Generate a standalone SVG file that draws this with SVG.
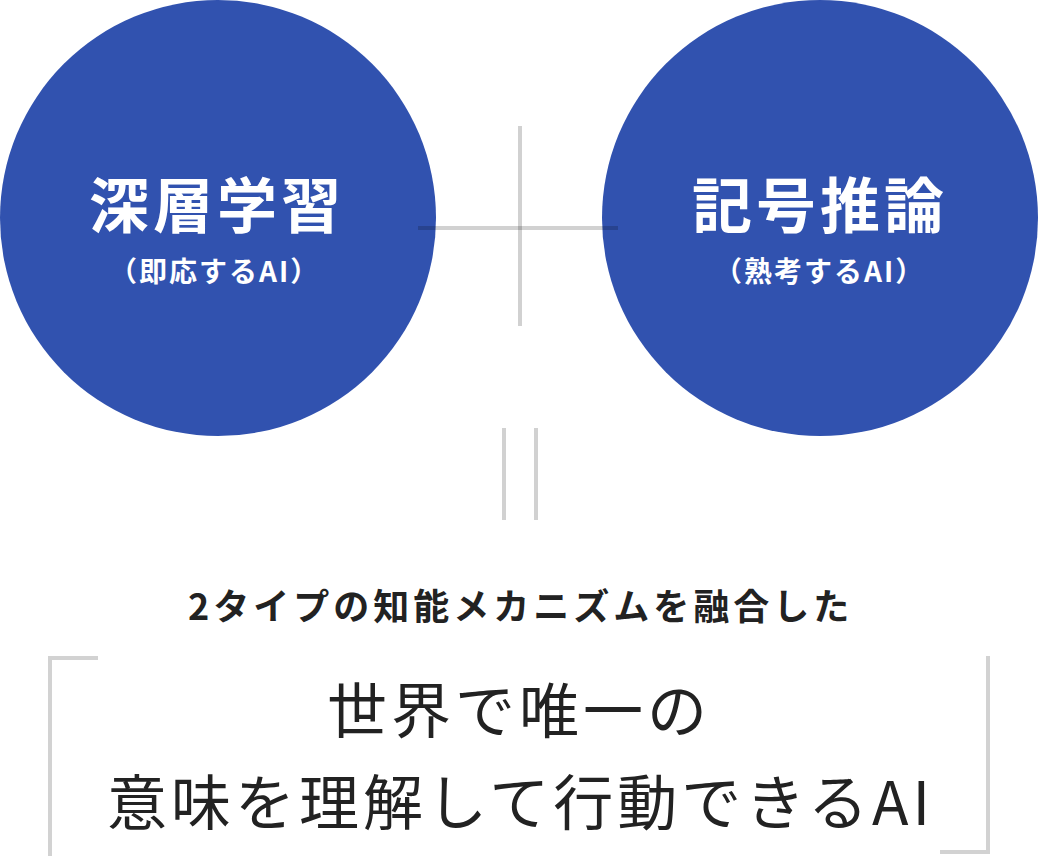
<svg xmlns="http://www.w3.org/2000/svg" width="1038" height="856" viewBox="0 0 1038 856">
  <style>
    .circle { fill: #3152af; }
    .title { font-family: "Noto Sans CJK JP", "Noto Sans", sans-serif; font-weight: 700; font-size: 60px; letter-spacing: 4px; fill: #ffffff; }
    .sub { font-family: "Noto Sans CJK JP", "Noto Sans", sans-serif; font-weight: 700; font-size: 28px; letter-spacing: 2px; fill: #ffffff; }
    .line { stroke: #000000; stroke-opacity: 0.18; stroke-width: 4; fill: none; }
    .bracket { stroke: #d2d2d2; stroke-width: 4; fill: none; }
    .lead { font-family: "Noto Sans CJK JP", "Noto Sans", sans-serif; font-weight: 700; font-size: 36px; letter-spacing: 4px; fill: #222222; }
    .main { font-family: "Noto Sans CJK JP", "Noto Sans", sans-serif; font-weight: 400; font-size: 60px; letter-spacing: 4px; fill: #222222; }
  </style>
  <rect width="1038" height="856" fill="#ffffff"/>
  <g id="node-deep-learning">
    <circle class="circle" cx="218" cy="218" r="218"/>
    <text class="title" x="89" y="228">深層学習</text>
    <text class="sub" x="109" y="282">（即応するAI）</text>
  </g>
  <g id="node-symbolic-reasoning">
    <circle class="circle" cx="820" cy="218" r="218"/>
    <text class="title" x="692" y="228">記号推論</text>
    <text class="sub" x="714" y="282">（熟考するAI）</text>
  </g>
  <g id="connectors">
    <line class="line" x1="520" y1="126" x2="520" y2="326"/>
    <line class="line" x1="418" y1="228" x2="618" y2="228"/>
    <line class="line" x1="504" y1="428" x2="504" y2="520"/>
    <line class="line" x1="536" y1="428" x2="536" y2="520"/>
  </g>
  <g id="node-result">
    <text class="lead" x="188" y="620">2タイプの知能メカニズムを融合した</text>
    <path class="bracket" d="M98 658 H50 V856"/>
    <path class="bracket" d="M988 656 V852 H940"/>
    <text class="main" x="327" y="733">世界で唯一の</text>
    <text class="main" x="107" y="825">意味を理解して行動できるAI</text>
  </g>
</svg>
